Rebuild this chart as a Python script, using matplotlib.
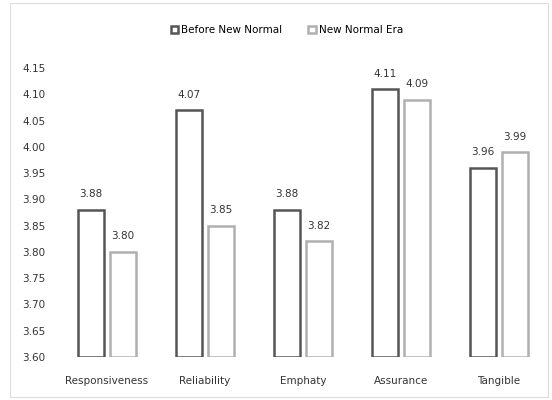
import numpy as np
import matplotlib.pyplot as plt
from matplotlib.patches import Rectangle

plt.rcParams['font.family'] = ['Liberation Sans Narrow', 'DejaVu Sans']

categories = ['Responsiveness', 'Reliability', 'Emphaty', 'Assurance', 'Tangible']
before = [3.88, 4.07, 3.88, 4.11, 3.96]
after = [3.80, 3.85, 3.82, 4.09, 3.99]
yticks = [3.60, 3.65, 3.70, 3.75, 3.80, 3.85, 3.90, 3.95, 4.00, 4.05, 4.10, 4.15]

fig = plt.figure(figsize=(5.52, 4.0), dpi=100)
ax = fig.add_axes([58/552, 43/400, 490/552, 289/400])

x = np.arange(len(categories))
w = 0.27
b1 = ax.bar(x - 0.165, np.array(before) - 3.60, w, bottom=3.60, color='white',
            edgecolor='#555555', linewidth=1.8, label='Before New Normal')
b2 = ax.bar(x + 0.165, np.array(after) - 3.60, w, bottom=3.60, color='white',
            edgecolor='#b0b0b0', linewidth=1.8, label='New Normal Era')

for xs, vals in [(x - 0.165, before), (x + 0.165, after)]:
    for xi, v in zip(xs, vals):
        ax.text(xi, v + 0.02, f'{v:.2f}', ha='center', va='bottom',
                fontsize=7.5, color='#333333')

ax.set_xlim(-0.5, len(categories) - 0.5)
ax.set_ylim(3.60, 4.15)
ax.set_yticks(yticks)
ax.set_yticklabels([f'{t:.2f}' for t in yticks])
ax.set_xticks(x)
ax.set_xticklabels(categories)
ax.tick_params(length=0, labelsize=7.5, colors='#333333')
ax.tick_params(axis='y', pad=9)
ax.tick_params(axis='x', pad=14)
for s in ax.spines.values():
    s.set_visible(False)

fig.legend(handles=[b1, b2], loc='center', bbox_to_anchor=(0.52, 0.925), ncol=2,
           frameon=False, fontsize=7.5, handlelength=0.7, handleheight=0.7,
           handletextpad=0.3, columnspacing=2.5)

# light frame around the chart area
fig.patches.append(Rectangle((10/552, 3/400), 538/552, 394/400, transform=fig.transFigure,
                             fill=False, edgecolor='#dddddd', linewidth=0.8))

fig.savefig('out.png', dpi=100)
